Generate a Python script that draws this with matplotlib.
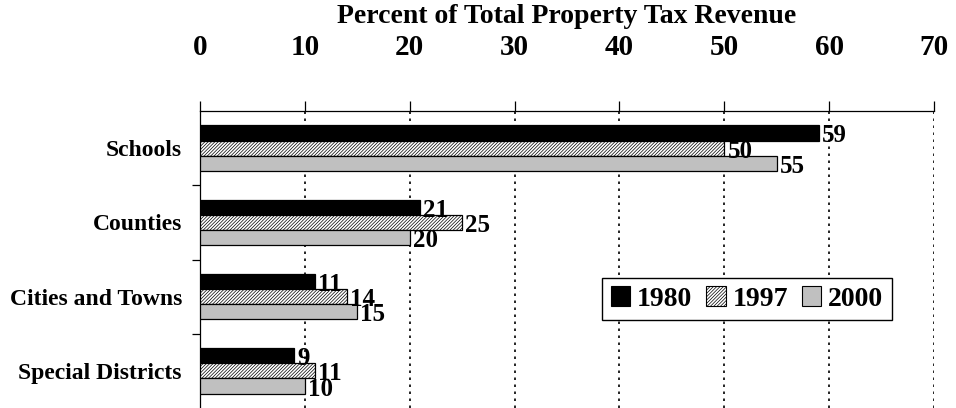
import numpy as np
import matplotlib.pyplot as plt
from matplotlib.patches import Patch

plt.rcParams['font.family'] = ['Liberation Serif', 'DejaVu Serif']
plt.rcParams['font.weight'] = 'bold'
plt.rcParams['hatch.linewidth'] = 0.5

categories = ["Schools", "Counties", "Cities and Towns", "Special Districts"]
years = ["1980", "1997", "2000"]
vals_1980 = [59, 21, 11, 9]
vals_1997 = [50, 25, 14, 11]
vals_2000 = [55, 20, 15, 10]

series = [vals_1980, vals_1997, vals_2000]
colors = ["black", "white", "#c0c0c0"]
hatches = [None, "//////////", None]

fig = plt.figure(figsize=(9.56, 4.08), dpi=100)
ax = fig.add_axes([200/956, 0.0, 734/956, 297/408])

y = np.arange(len(categories))
h = 0.205
for i, vals in enumerate(series):
    pos = y + (i - 1) * h
    ax.barh(pos, vals, height=h, color=colors[i], hatch=hatches[i],
            edgecolor="black", linewidth=0.9, zorder=3)
    for p, v in zip(pos, vals):
        ax.text(v + 0.3, p + 0.04, str(v), va="center", ha="left",
                fontsize=18, fontweight="bold", zorder=4)

ax.set_xlim(0, 70)
ax.set_ylim(len(categories) - 0.5, -0.5)
ax.xaxis.tick_top()
ax.set_xticks(np.arange(0, 71, 10))
ax.tick_params(axis="x", which="major", top=True, bottom=False, length=7,
               width=0.9, pad=29, labelsize=21, direction="out")
for lab in ax.get_xticklabels():
    lab.set_fontweight("bold")

ax.set_yticks(y)
ax.set_yticklabels(categories, fontsize=17, fontweight="bold")
ax.tick_params(axis="y", which="major", length=0, pad=13)
ax.set_yticks(np.arange(0.5, len(categories) - 0.5, 1), minor=True)
ax.tick_params(axis="y", which="minor", length=6, width=0.9)

ax.xaxis.grid(True, color="black", linestyle=(0, (1.5, 2.7)), linewidth=1.2)
ax.set_axisbelow(True)
ax.spines["right"].set_visible(False)
ax.spines["bottom"].set_visible(False)
ax.spines["top"].set_linewidth(0.9)
ax.spines["left"].set_linewidth(0.9)

ax.set_title("Percent of Total Property Tax Revenue", fontsize=20,
             fontweight="bold", pad=8)

handles = [Patch(facecolor=c, edgecolor="black", hatch=hh, linewidth=0.8)
           for c, hh in zip(colors, hatches)]
leg = ax.legend(handles, years, ncol=3, loc="lower left",
                bbox_to_anchor=(0.548, 0.296), prop={"size": 20, "weight": "bold"},
                handlelength=0.7, handleheight=0.7, handletextpad=0.25,
                columnspacing=0.5, borderpad=0.3, fancybox=False, framealpha=1,
                edgecolor="black", borderaxespad=0)
leg.get_frame().set_linewidth(1.0)
leg.set_zorder(5)

plt.savefig("out.png", dpi=100)
